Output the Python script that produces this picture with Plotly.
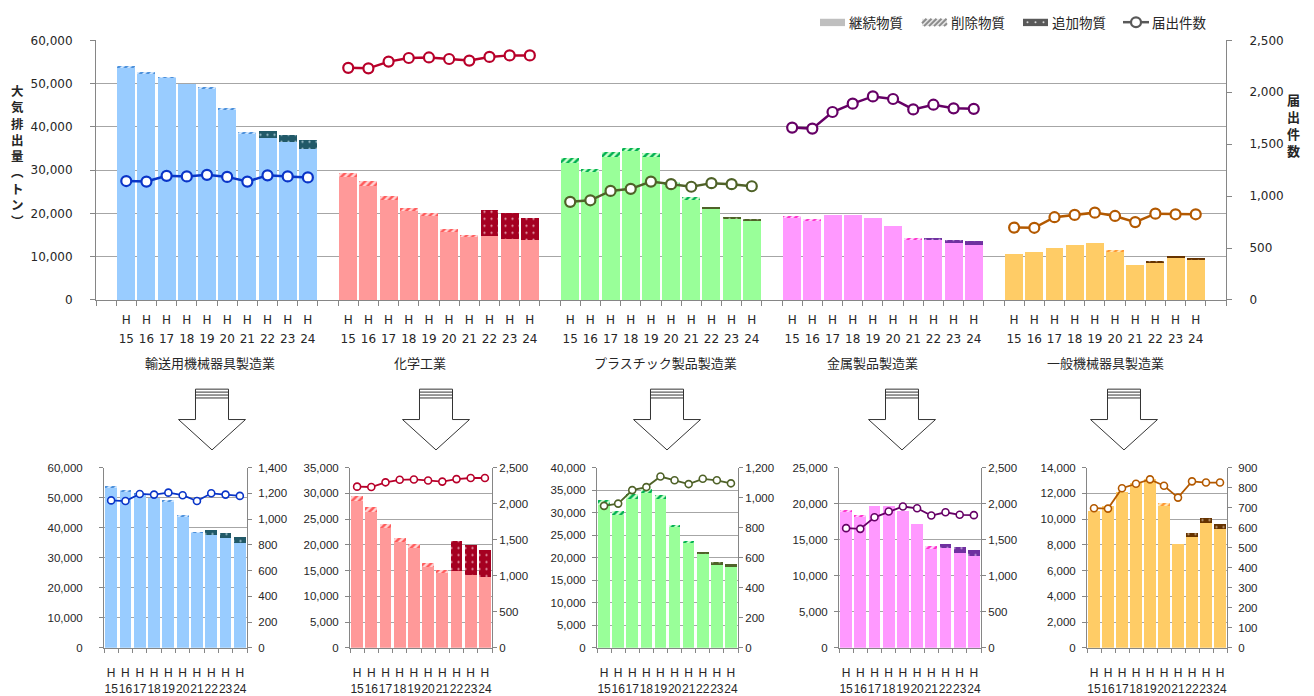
import plotly.graph_objects as go

W, H = 1314, 696
JP = "Noto Sans CJK JP"
NUM_TOP = "DejaVu Sans"
NUM_SMALL = "Liberation Sans"
TXT = "#262626"
AXIS = "#868686"
GRID = "#a6a6a6"

# ---- data -------------------------------------------------------------
years = ["15", "16", "17", "18", "19", "20", "21", "22", "23", "24"]
industries = ["輸送用機械器具製造業", "化学工業", "プラスチック製品製造業",
              "金属製品製造業", "一般機械器具製造業"]
legend_names = ["継続物質", "削除物質", "追加物質", "届出件数"]

transport_cont = [53600, 52200, 51300, 49800, 48800, 43900, 38500, 37400, 36400, 34900]
transport_del = [300, 200, 100, 0, 250, 200, 200, 0, 0, 0]
transport_add = [0, 0, 0, 0, 0, 0, 0, 1700, 1800, 2100]
transport_count = [1145, 1140, 1195, 1190, 1205, 1185, 1140, 1200, 1190, 1180]

chemical_cont = [28450, 26450, 23200, 20500, 19400, 15750, 14550, 14850, 14200, 13750]
chemical_del = [950, 950, 850, 850, 800, 650, 500, 0, 0, 0]
chemical_add = [0, 0, 0, 0, 0, 0, 0, 5850, 5850, 5150]
chemical_count = [2235, 2230, 2295, 2330, 2335, 2320, 2305, 2340, 2355, 2355]

plastic_cont = [31700, 29550, 33000, 34400, 33000, 26700, 23150, 21050, 18650, 18200]
plastic_del = [1050, 800, 1150, 800, 900, 450, 650, 0, 0, 0]
plastic_add = [0, 0, 0, 0, 0, 0, 0, 250, 300, 350]
plastic_count = [945, 960, 1050, 1070, 1140, 1115, 1090, 1125, 1115, 1095]

metal_cont = [18950, 18300, 19650, 19650, 18950, 17150, 13850, 13850, 13100, 12700]
metal_del = [200, 150, 0, 0, 0, 0, 250, 0, 0, 0]
metal_add = [0, 0, 0, 0, 0, 0, 0, 550, 850, 850]
metal_count = [1660, 1650, 1810, 1890, 1960, 1935, 1835, 1880, 1845, 1840]

machinery_cont = [10600, 11050, 12100, 12800, 13100, 11050, 8100, 8600, 9700, 9200]
machinery_del = [0, 0, 0, 0, 0, 200, 0, 0, 0, 0]
machinery_add = [0, 0, 0, 0, 0, 0, 0, 350, 350, 400]
machinery_count = [697, 695, 797, 819, 841, 809, 750, 831, 825, 825]

series = [
    (transport_cont, transport_del, transport_add, transport_count),
    (chemical_cont, chemical_del, chemical_add, chemical_count),
    (plastic_cont, plastic_del, plastic_add, plastic_count),
    (metal_cont, metal_del, metal_add, metal_count),
    (machinery_cont, machinery_del, machinery_add, machinery_count),
]

# axis scales of the five detail charts
small_left_max = [60000, 35000, 40000, 25000, 14000]
small_left_dtick = [10000, 5000, 5000, 5000, 2000]
small_right_max = [1400, 2500, 1200, 2500, 900]
small_right_dtick = [200, 500, 200, 500, 100]

# ---- styles -----------------------------------------------------------
styles = [
    dict(base="#99CCFF", hfg="#4A8FDA", hbg="#CFE6FF", dark="#215968", dot="#A7C7D2", line="#0A35C8"),
    dict(base="#FF9999", hfg="#FF5B5B", hbg="#FFD3D3", dark="#A50021", dot="#E8A6B4", line="#B8002A"),
    dict(base="#99FF99", hfg="#00B050", hbg="#CCFFCC", dark="#4F6228", dot="#B0BC98", line="#4F6228"),
    dict(base="#FF99FF", hfg="#FF33CC", hbg="#FFD3FF", dark="#7030A0", dot="#C9AEE0", line="#660066"),
    dict(base="#FFCC66", hfg="#FF9933", hbg="#FFE8B8", dark="#663300", dot="#C4A88A", line="#B35900"),
]


def px_x(x):
    return x / W


def px_y(y):
    return 1 - y / H


fig = go.Figure()

# ---- overview chart: 5 groups of 10 years with one blank slot between ----
n_slots = 56
group_pos = [[1 + g * 11 + k for k in range(len(years))] for g in range(len(industries))]


def add_group(xs, data, st, xa, ya, ya2, width, msize, lwidth, mline):
    cont, dele, add, cnt = data
    fig.add_trace(go.Bar(x=xs, y=cont, xaxis=xa, yaxis=ya, width=width,
                         marker=dict(color=st["base"], line=dict(width=0)),
                         showlegend=False, hoverinfo="skip"))
    fig.add_trace(go.Bar(x=xs, y=dele, xaxis=xa, yaxis=ya, width=width,
                         marker=dict(color=st["hbg"], line=dict(width=0),
                                     pattern=dict(shape="/", fgcolor=st["hfg"], bgcolor=st["hbg"],
                                                  size=5, solidity=0.5, fillmode="replace")),
                         showlegend=False, hoverinfo="skip"))
    fig.add_trace(go.Bar(x=xs, y=add, xaxis=xa, yaxis=ya, width=width,
                         marker=dict(color=st["dark"], line=dict(width=0),
                                     pattern=dict(shape=".", fgcolor=st["dot"], bgcolor=st["dark"],
                                                  size=7, solidity=0.08, fillmode="replace")),
                         showlegend=False, hoverinfo="skip"))
    fig.add_trace(go.Scatter(x=xs, y=cnt, xaxis=xa, yaxis=ya2, mode="lines+markers",
                             line=dict(color=st["line"], width=lwidth),
                             marker=dict(symbol="circle", size=msize, color="white",
                                         line=dict(color=st["line"], width=mline)),
                             showlegend=False, hoverinfo="skip"))


for g in range(len(industries)):
    add_group(group_pos[g], series[g], styles[g], "x", "y", "y2", 0.89, 10, 2.5, 2.2)

bar_positions = [p for grp in group_pos for p in grp]
# carrier for the year-number row under the overview chart
fig.add_trace(go.Scatter(x=bar_positions, y=[None] * len(bar_positions), xaxis="x7", yaxis="y",
                         mode="markers", marker=dict(opacity=0), showlegend=False,
                         hoverinfo="skip"))

# ---- detail charts ---------------------------------------------------
small_dom_x = [(104, 247), (350, 492), (597, 738), (839, 981), (1087, 1227)]
small_dom_y = (470, 654)
left_standoff = [14, 4, 4, 4, 4]
right_standoff = [4, 0, 0, 0, 4]
for i in range(5):
    add_group(list(range(len(years))), series[i], styles[i], f"x{i + 2}", f"y{2 * i + 3}",
              f"y{2 * i + 4}", 0.82, 7, 1.8, 1.6)

# ---- axes ---------------------------------------------------------------
top_dx = [px_x(96), px_x(1226)]
top_dy = [px_y(299), px_y(34)]
boundaries_top = [b - 0.5 for b in range(n_slots + 1)]

num_font_top = dict(family=NUM_TOP, size=12, color=TXT)
layout = dict(
    xaxis=dict(domain=top_dx, anchor="y", range=[-0.5, n_slots - 0.5],
               tickmode="array", tickvals=bar_positions, ticktext=["H"] * len(bar_positions),
               ticks="outside", ticklen=5, tickcolor="rgba(0,0,0,0)",
               minor=dict(tickmode="array", tickvals=boundaries_top, ticks="outside",
                          ticklen=5, tickcolor=AXIS, showgrid=False),
               showline=True, linecolor=AXIS, showgrid=False, zeroline=False,
               tickfont=num_font_top, ticklabelstandoff=4, tickangle=0),
    xaxis7=dict(overlaying="x", anchor="y", range=[-0.5, n_slots - 0.5],
                tickmode="array", tickvals=bar_positions, ticktext=years * len(industries),
                ticks="", showline=False, showgrid=False, zeroline=False,
                tickfont=num_font_top, ticklabelstandoff=30, tickangle=0),
    yaxis=dict(domain=top_dy, anchor="x", range=[0, 60000], dtick=10000, tickformat=",",
               showgrid=True, gridcolor=GRID, gridwidth=1, showline=True, linecolor=AXIS,
               ticks="outside", ticklen=5, tickcolor=AXIS, zeroline=False,
               tickfont=num_font_top, ticklabelstandoff=15),
    yaxis2=dict(overlaying="y", anchor="x", side="right", range=[0, 2500], dtick=500,
                tickformat=",", showgrid=False, showline=True, linecolor=AXIS,
                ticks="outside", ticklen=5, tickcolor=AXIS, zeroline=False,
                tickfont=num_font_top, ticklabelstandoff=15),
)

num_font_small = dict(family=NUM_SMALL, size=11.5, color=TXT)
boundaries_small = [b - 0.5 for b in range(len(years) + 1)]
for i in range(5):
    x0, x1 = small_dom_x[i]
    xa, ya, ya2 = f"xaxis{i + 2}", f"yaxis{2 * i + 3}", f"yaxis{2 * i + 4}"
    layout[xa] = dict(domain=[px_x(x0), px_x(x1)], anchor=f"y{2 * i + 3}",
                      range=[-0.5, len(years) - 0.5], tickmode="array",
                      tickvals=list(range(len(years))), ticktext=[f"H<br>{y}" for y in years],
                      ticks="outside", ticklen=4, tickcolor="rgba(0,0,0,0)",
                      minor=dict(tickmode="array", tickvals=boundaries_small, ticks="outside",
                                 ticklen=4, tickcolor=AXIS, showgrid=False),
                      showline=True, linecolor=AXIS, showgrid=False, zeroline=False,
                      tickfont=dict(family="Liberation Sans", size=12, color=TXT),
                      ticklabelstandoff=10, tickangle=0)
    layout[ya] = dict(domain=[px_y(small_dom_y[1]), px_y(small_dom_y[0])],
                      anchor=f"x{i + 2}", range=[0, small_left_max[i]],
                      dtick=small_left_dtick[i], tickformat=",", showgrid=True,
                      gridcolor=GRID, showline=True, linecolor=AXIS, ticks="outside",
                      ticklen=4, tickcolor=AXIS, zeroline=False, tickfont=num_font_small,
                      ticklabelstandoff=left_standoff[i])
    layout[ya2] = dict(overlaying=f"y{2 * i + 3}", anchor=f"x{i + 2}", side="right",
                       range=[0, small_right_max[i]], dtick=small_right_dtick[i],
                       tickformat=",", showgrid=False, showline=True, linecolor=AXIS,
                       ticks="outside", ticklen=4, tickcolor=AXIS, zeroline=False,
                       tickfont=num_font_small, ticklabelstandoff=right_standoff[i])

# ---- annotations: group labels and axis titles ------------------------
label_x = [210, 420, 665, 872, 1105]
annotations = []
for name, lx in zip(industries, label_x):
    annotations.append(dict(text=name, x=px_x(lx), y=px_y(363), xref="paper", yref="paper",
                            showarrow=False, xanchor="center", yanchor="middle",
                            font=dict(family=JP, size=13, color=TXT)))
annotations.append(dict(text="<br>".join("大気排出量︵トン︶"), x=px_x(17), y=px_y(152),
                        xref="paper", yref="paper", showarrow=False, xanchor="center",
                        yanchor="middle", font=dict(family=JP, size=12.5, color=TXT, weight=600)))
annotations.append(dict(text="<br>".join("届出件数"), x=px_x(1293), y=px_y(120),
                        xref="paper", yref="paper", showarrow=False, xanchor="center",
                        yanchor="middle", font=dict(family=JP, size=13, color=TXT, weight=600)))

shapes = []

# ---- legend (swatch + label for each stack part and the count line) ----
LEG_Y0, LEG_Y1, LEG_YC = 12, 19.5, 15.5
swatch_x = [820, 922, 1023, 1123]
for name, sx in zip(legend_names, swatch_x):
    annotations.append(dict(text=name, x=px_x(sx + 27), y=px_y(LEG_YC), xref="paper",
                            yref="paper", showarrow=False, xanchor="left", yanchor="middle",
                            font=dict(family=JP, size=13.5, color=TXT)))


def rect(x0, x1, y0, y1, color):
    return dict(type="rect", x0=px_x(x0), x1=px_x(x1), y0=px_y(y1), y1=px_y(y0),
                xref="paper", yref="paper", fillcolor=color, line=dict(width=0))


# solid swatch
shapes.append(rect(swatch_x[0], swatch_x[0] + 25, LEG_Y0, LEG_Y1, "#BFBFBF"))
# hatched swatch
hx0, hx1 = swatch_x[1], swatch_x[1] + 25
shapes.append(rect(hx0, hx1, LEG_Y0, LEG_Y1, "#E4E4E4"))
hgt = LEG_Y1 - LEG_Y0
for a in range(int(hx0 - hgt), int(hx1) + 1, 5):
    xs, xe = max(a, hx0), min(a + hgt, hx1)
    if xs < xe:
        shapes.append(dict(type="line", xref="paper", yref="paper",
                           x0=px_x(xs), y0=px_y(LEG_Y1 - (xs - a)),
                           x1=px_x(xe), y1=px_y(LEG_Y1 - (xe - a)),
                           line=dict(color="#8C8C8C", width=2)))
# dotted swatch
dx0 = swatch_x[2]
shapes.append(rect(dx0, dx0 + 25, LEG_Y0, LEG_Y1, "#595959"))
for cx in (dx0 + 4.5, dx0 + 12.5, dx0 + 20.5):
    shapes.append(dict(type="circle", xref="paper", yref="paper",
                       x0=px_x(cx - 1), x1=px_x(cx + 1), y0=px_y(LEG_YC + 1), y1=px_y(LEG_YC - 1),
                       fillcolor="#D9D9D9", line=dict(width=0)))
# line + marker swatch
lx0 = swatch_x[3]
shapes.append(dict(type="line", xref="paper", yref="paper", x0=px_x(lx0), x1=px_x(lx0 + 26),
                   y0=px_y(LEG_YC), y1=px_y(LEG_YC), line=dict(color="#595959", width=2.5)))
shapes.append(dict(type="circle", xref="paper", yref="paper",
                   x0=px_x(lx0 + 13 - 5), x1=px_x(lx0 + 13 + 5),
                   y0=px_y(LEG_YC + 5), y1=px_y(LEG_YC - 5),
                   fillcolor="white", line=dict(color="#595959", width=2.2)))

# ---- block arrows leading to the detail charts -------------------------
arrow_cx = [212, 436, 667, 902, 1124]
for cx in arrow_cx:
    sw, hw, top, neck, tip = 16.5, 33.5, 390, 421, 452
    pts = [(cx - sw, top), (cx + sw, top), (cx + sw, neck), (cx + hw, neck), (cx, tip),
           (cx - hw, neck), (cx - sw, neck)]
    path = "M " + " L ".join(f"{px_x(a):.5f},{px_y(b):.5f}" for a, b in pts) + " Z"
    shapes.append(dict(type="path", path=path, xref="paper", yref="paper",
                       fillcolor="white", line=dict(color="#333333", width=1)))
    for yy in (393, 396, 399):
        shapes.append(dict(type="line", x0=px_x(cx - sw), x1=px_x(cx + sw), y0=px_y(yy),
                           y1=px_y(yy), xref="paper", yref="paper",
                           line=dict(color="#333333", width=1)))

fig.update_layout(
    **layout,
    barmode="stack",
    width=W, height=H,
    margin=dict(l=0, r=0, t=0, b=0),
    paper_bgcolor="white", plot_bgcolor="white",
    annotations=annotations,
    shapes=shapes,
    showlegend=False,
    font=dict(family=JP, color=TXT),
)

fig.write_html("out.html")
